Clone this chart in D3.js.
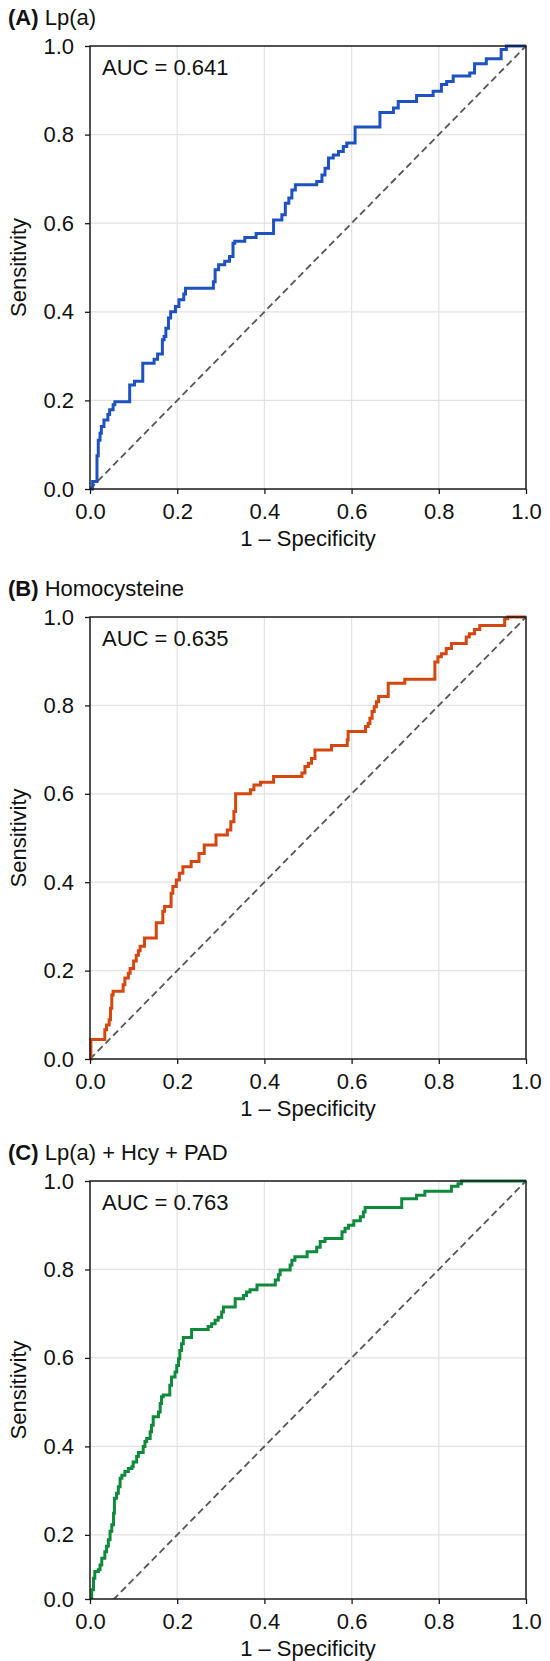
<!DOCTYPE html>
<html>
<head>
<meta charset="utf-8">
<script src="https://cdn.jsdelivr.net/npm/d3@7"></script>
<style>
  body { margin: 0; background: #fff; }
  svg text { font-family: "Liberation Sans", Arial, sans-serif; fill: #111; }
</style>
</head>
<body>
<div id="chart"></div>
<script>
// panel labels
const panelLetters = ["(A)", "(B)", "(C)"];
const panelNames = ["Lp(a)", "Homocysteine", "Lp(a) + Hcy + PAD"];
const aucValues = ["0.641", "0.635", "0.763"];

// axis ticks
const tickValues = [0, 0.2, 0.4, 0.6, 0.8, 1.0];
const tickLabels = ["0.0", "0.2", "0.4", "0.6", "0.8", "1.0"];
// panel C is cropped at the bottom: lowest sensitivity its axis shows
const yFloor = [0, 0, 0.055];

// ROC steps: [1 - specificity, sensitivity] at the left end of each plateau
const lpaRoc = [
  [0, 0], [0.006, 0.017], [0.016, 0.075], [0.019, 0.11], [0.023, 0.126], [0.026, 0.141],
  [0.032, 0.156], [0.041, 0.168], [0.045, 0.179], [0.053, 0.19], [0.057, 0.197],
  [0.091, 0.235], [0.102, 0.243], [0.121, 0.284], [0.147, 0.293], [0.155, 0.305],
  [0.166, 0.337], [0.170, 0.344], [0.174, 0.363], [0.18, 0.386], [0.185, 0.40],
  [0.196, 0.412], [0.204, 0.427], [0.215, 0.44], [0.219, 0.453], [0.283, 0.468],
  [0.287, 0.495], [0.295, 0.506], [0.309, 0.514], [0.32, 0.525], [0.328, 0.555],
  [0.332, 0.559], [0.355, 0.568], [0.381, 0.577], [0.421, 0.607], [0.44, 0.619],
  [0.448, 0.645], [0.456, 0.657], [0.463, 0.675], [0.471, 0.687], [0.52, 0.694],
  [0.532, 0.709], [0.539, 0.724], [0.547, 0.747], [0.558, 0.754], [0.57, 0.762],
  [0.581, 0.773], [0.589, 0.781], [0.608, 0.817], [0.665, 0.85], [0.696, 0.86],
  [0.707, 0.875], [0.749, 0.888], [0.787, 0.898], [0.806, 0.913], [0.818, 0.92],
  [0.833, 0.932], [0.871, 0.939], [0.882, 0.96], [0.909, 0.971], [0.943, 0.992],
  [0.955, 1.0], [1, 1]
];

const hcyRoc = [
  [0, 0], [0.002, 0.044], [0.034, 0.066], [0.038, 0.077], [0.044, 0.089], [0.047, 0.115],
  [0.05, 0.145], [0.053, 0.153], [0.076, 0.168], [0.08, 0.183], [0.088, 0.194],
  [0.092, 0.205], [0.10, 0.222], [0.106, 0.235], [0.111, 0.245], [0.115, 0.255],
  [0.125, 0.274], [0.152, 0.308], [0.167, 0.334], [0.171, 0.345], [0.186, 0.375],
  [0.19, 0.39], [0.198, 0.405], [0.205, 0.42], [0.213, 0.435], [0.232, 0.447],
  [0.25, 0.465], [0.262, 0.484], [0.289, 0.507], [0.315, 0.518], [0.323, 0.537],
  [0.33, 0.56], [0.334, 0.6], [0.368, 0.609], [0.376, 0.62], [0.391, 0.626],
  [0.421, 0.639], [0.486, 0.647], [0.493, 0.662], [0.501, 0.669], [0.508, 0.68],
  [0.516, 0.699], [0.554, 0.709], [0.59, 0.722], [0.592, 0.741], [0.632, 0.752],
  [0.638, 0.759], [0.642, 0.771], [0.647, 0.786], [0.652, 0.797], [0.657, 0.808],
  [0.662, 0.82], [0.684, 0.85], [0.722, 0.859], [0.791, 0.898], [0.798, 0.91],
  [0.806, 0.917], [0.817, 0.929], [0.829, 0.94], [0.863, 0.955], [0.87, 0.962],
  [0.882, 0.972], [0.894, 0.981], [0.951, 0.996], [0.958, 1.0], [1, 1]
];

const comboRoc = [
  [0, 0], [0.004, 0.076], [0.008, 0.102], [0.011, 0.117], [0.019, 0.121], [0.023, 0.132],
  [0.027, 0.147], [0.034, 0.162], [0.038, 0.174], [0.042, 0.189], [0.046, 0.208],
  [0.05, 0.223], [0.054, 0.249], [0.056, 0.283], [0.061, 0.294], [0.065, 0.309],
  [0.069, 0.328], [0.073, 0.335], [0.08, 0.343], [0.088, 0.35], [0.096, 0.354],
  [0.099, 0.365], [0.107, 0.377], [0.111, 0.386], [0.122, 0.40], [0.126, 0.411],
  [0.13, 0.418], [0.138, 0.433], [0.141, 0.448], [0.145, 0.467], [0.157, 0.478],
  [0.161, 0.497], [0.164, 0.512], [0.168, 0.516], [0.183, 0.538], [0.187, 0.557],
  [0.195, 0.568], [0.199, 0.583], [0.203, 0.598], [0.206, 0.617], [0.21, 0.632],
  [0.214, 0.646], [0.233, 0.664], [0.271, 0.671], [0.279, 0.677], [0.287, 0.685],
  [0.294, 0.692], [0.302, 0.704], [0.306, 0.715], [0.333, 0.734], [0.352, 0.741],
  [0.359, 0.749], [0.367, 0.754], [0.383, 0.765], [0.425, 0.776], [0.432, 0.788],
  [0.436, 0.799], [0.459, 0.81], [0.463, 0.821], [0.47, 0.829], [0.498, 0.84],
  [0.52, 0.85], [0.528, 0.863], [0.539, 0.87], [0.578, 0.885], [0.585, 0.893],
  [0.593, 0.9], [0.605, 0.91], [0.62, 0.919], [0.627, 0.93], [0.631, 0.94],
  [0.715, 0.96], [0.749, 0.968], [0.768, 0.977], [0.829, 0.988], [0.844, 0.994],
  [0.852, 1.0], [1, 1]
];

const rocSeries = [lpaRoc, hcyRoc, comboRoc];
const lineColors = ["#1f52c1", "#d4470f", "#0f8a3c"];

// layout
const W = 550, H = 1661;
const plotLeft = 90, plotRight = 526;
const panelTop = [46, 617, 1181];
const panelBottom = [489, 1059, 1599];
const fontSize = 22;

const svg = d3.select("#chart")
    .append("svg")
    .attr("width", W)
    .attr("height", H);

const x = d3.scaleLinear().domain([0, 1]).range([plotLeft, plotRight]);

rocSeries.forEach((roc, i) => {
    const top = panelTop[i], bottom = panelBottom[i];
    const y = d3.scaleLinear().domain([yFloor[i], 1]).range([bottom, top]);
    const g = svg.append("g");

    // grid
    const inner = tickValues.slice(1, -1);
    g.append("g").selectAll("line.vg")
        .data(inner).join("line")
        .attr("x1", d => x(d)).attr("x2", d => x(d))
        .attr("y1", top).attr("y2", bottom)
        .attr("stroke", "#e2e2e2").attr("stroke-width", 1.2);
    g.append("g").selectAll("line.hg")
        .data(inner).join("line")
        .attr("x1", plotLeft).attr("x2", plotRight)
        .attr("y1", d => y(d)).attr("y2", d => y(d))
        .attr("stroke", "#e2e2e2").attr("stroke-width", 1.2);

    // clip (bottom is tight on the cropped panel)
    const clipId = "clip" + i;
    g.append("clipPath").attr("id", clipId)
        .append("rect")
        .attr("x", plotLeft - 3)
        .attr("y", top - 3)
        .attr("width", plotRight - plotLeft + 6)
        .attr("height", bottom - top + (yFloor[i] > 0 ? 3 : 6));

    const plot = g.append("g").attr("clip-path", `url(#${clipId})`);

    // chance line
    plot.append("path")
        .datum([[0, 0], [1, 1]])
        .attr("d", d3.line().x(d => x(d[0])).y(d => y(d[1])))
        .attr("fill", "none")
        .attr("stroke", "#555")
        .attr("stroke-width", 1.8)
        .attr("stroke-dasharray", "7,4");

    // ROC curve
    plot.append("path")
        .datum(roc)
        .attr("d", d3.line().x(d => x(d[0])).y(d => y(d[1])).curve(d3.curveStepAfter))
        .attr("fill", "none")
        .attr("stroke", lineColors[i])
        .attr("stroke-width", 3)
        .attr("stroke-linejoin", "miter");

    // frame
    g.append("rect")
        .attr("x", plotLeft).attr("y", top)
        .attr("width", plotRight - plotLeft).attr("height", bottom - top)
        .attr("fill", "none").attr("stroke", "#1a1a1a").attr("stroke-width", 1.5);

    // axes
    const xAxis = g.append("g")
        .attr("transform", `translate(0,${bottom})`)
        .call(d3.axisBottom(x).tickValues(tickValues).tickSize(5).tickPadding(9)
            .tickFormat((d, k) => tickLabels[k]));
    const yTicks = [yFloor[i]].concat(tickValues.slice(1));
    const yAxis = g.append("g")
        .attr("transform", `translate(${plotLeft},0)`)
        .call(d3.axisLeft(y).tickValues(yTicks).tickSize(5).tickPadding(11)
            .tickFormat((d, k) => tickLabels[k]));
    [xAxis, yAxis].forEach(a => {
        a.select(".domain").remove();
        a.selectAll(".tick line").attr("stroke", "#1a1a1a").attr("stroke-width", 1.3);
        a.selectAll(".tick text")
            .attr("font-size", fontSize)
            .attr("font-family", "'Liberation Sans', Arial, sans-serif")
            .attr("fill", "#111");
    });

    // panel title
    const title = g.append("text")
        .attr("x", 8)
        .attr("y", top - 21)
        .attr("font-size", fontSize);
    title.append("tspan").attr("font-weight", "bold").text(panelLetters[i]);
    title.append("tspan").text(" " + panelNames[i]);

    // AUC
    g.append("text")
        .attr("x", plotLeft + 12)
        .attr("y", top + 29)
        .attr("font-size", fontSize)
        .text("AUC = " + aucValues[i]);

    // axis titles
    g.append("text")
        .attr("transform", "rotate(-90)")
        .attr("x", -(top + bottom) / 2)
        .attr("y", 26)
        .attr("text-anchor", "middle")
        .attr("font-size", fontSize)
        .text("Sensitivity");

    g.append("text")
        .attr("x", (plotLeft + plotRight) / 2)
        .attr("y", bottom + 57)
        .attr("text-anchor", "middle")
        .attr("font-size", fontSize)
        .text("1 \u2013 Specificity");
});
</script>
</body>
</html>
